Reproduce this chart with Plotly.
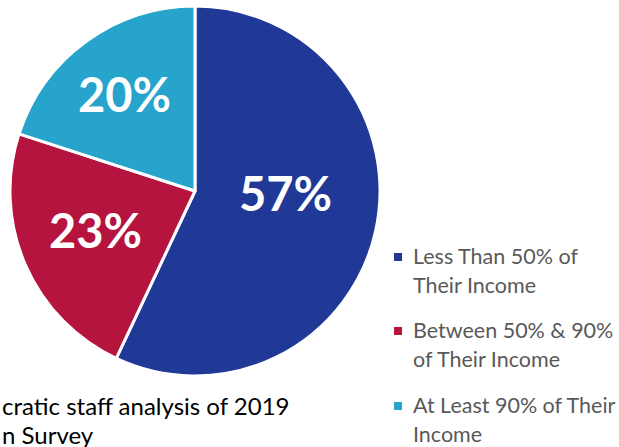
import math
import plotly.graph_objects as go

labels = ["Less Than 50% of<br>Their Income",
          "Between 50% & 90%<br>of Their Income",
          "At Least 90% of Their<br>Income"]
values = [57, 23, 20]
colors = ["#213996", "#B5143F", "#26A4CB"]
source_lines = ["cratic staff analysis of 2019", "n Survey"]

W, H = 619, 447
cx, cy, R = 195, 191, 185

fig = go.Figure()
fig.add_trace(go.Pie(
    labels=labels,
    values=values,
    sort=False,
    direction="clockwise",
    rotation=0,
    marker=dict(colors=colors, line=dict(color="white", width=3)),
    textinfo="none",
    showlegend=False,
    hoverinfo="label+percent",
    domain=dict(x=[(cx - R) / W, (cx + R) / W],
                y=[1 - (cy + R) / H, 1 - (cy - R) / H]),
))

annotations = []
shapes = []

# slice percentage labels, placed along each slice's angle
label_radius = [0.49, 0.58, 0.65]
angle_shift = [-11.5, 2, 0]
total = sum(values)
cum = 0
for v, rf, da in zip(values, label_radius, angle_shift):
    mid = (cum + v / 2) / total * 360 + da
    cum += v
    a = math.radians(mid)
    px = cx + rf * R * math.sin(a)
    py = cy - rf * R * math.cos(a)
    annotations.append(dict(
        x=px / W, y=1 - py / H, xref="paper", yref="paper",
        xanchor="center", yanchor="middle", text=f"{v}%", showarrow=False,
        font=dict(family="Lato", size=47, color="white", weight="bold")))

legend_font = dict(family="Lato", size=21.5, color="#595959")
first_baselines = [264, 338, 413]
line_gap = 29
text_x = 411
for lab, col, b in zip(labels, colors, first_baselines):
    lines = lab.split("<br>")
    for i, ln in enumerate(lines):
        base = b + i * line_gap
        annotations.append(dict(
            x=text_x / W, y=1 - (base - 0.36 * legend_font["size"]) / H,
            xref="paper", yref="paper", xanchor="left", yanchor="middle",
            text=ln, showarrow=False, font=legend_font))
    shapes.append(dict(
        type="rect", xref="paper", yref="paper",
        x0=394 / W, x1=402 / W, y0=1 - (b - 3) / H, y1=1 - (b - 11) / H,
        fillcolor=col, line=dict(width=0)))

src_font = dict(family="Lato", size=24, color="#000000")
for i, ln in enumerate(source_lines):
    base = 414 + i * 29
    annotations.append(dict(
        x=0, y=1 - (base - 0.36 * src_font["size"]) / H,
        xref="paper", yref="paper", xanchor="left", yanchor="middle",
        text=ln, showarrow=False, font=src_font))

fig.update_layout(
    width=W, height=H,
    margin=dict(l=0, r=0, t=0, b=0),
    paper_bgcolor="white", plot_bgcolor="white",
    annotations=annotations, shapes=shapes,
)
fig.write_html("out.html",
               config={"displayModeBar": False},
               post_script="document.body.style.margin='0';"
                           "document.body.style.overflow='hidden';")
